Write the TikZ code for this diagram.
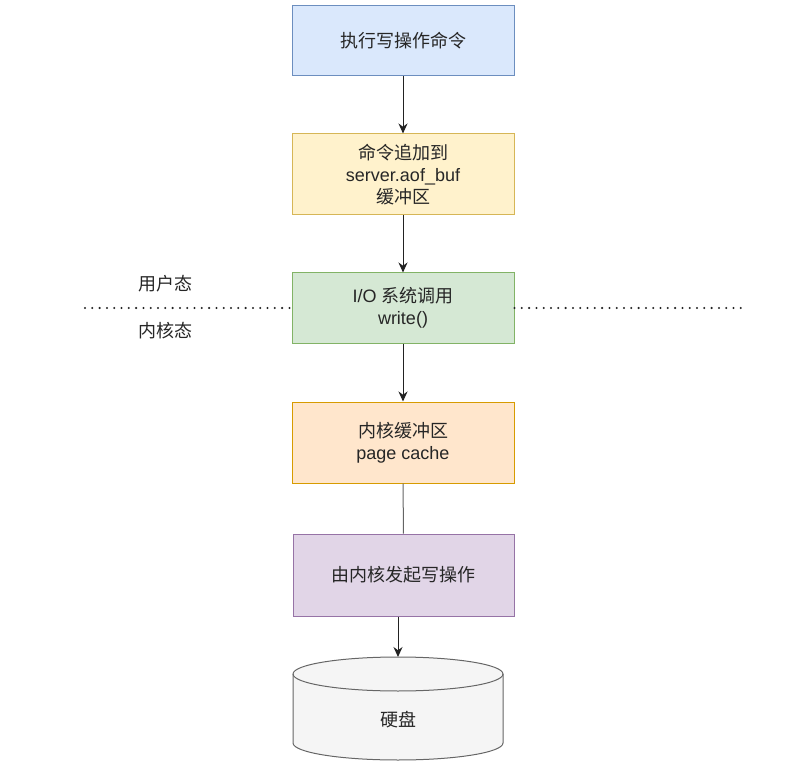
\documentclass[tikz,border=0pt]{standalone}
\usepackage{fontspec}
\setmainfont{Liberation Sans}
\newfontfamily\cjk{Noto Sans CJK SC}
\usetikzlibrary{arrows.meta}
\definecolor{bluef}{HTML}{DAE8FC}\definecolor{blued}{HTML}{6C8EBF}
\definecolor{yelf}{HTML}{FFF2CC}\definecolor{yeld}{HTML}{D6B656}
\definecolor{grnf}{HTML}{D5E8D4}\definecolor{grnd}{HTML}{82B366}
\definecolor{orgf}{HTML}{FFE6CC}\definecolor{orgd}{HTML}{D79B00}
\definecolor{purf}{HTML}{E1D5E7}\definecolor{purd}{HTML}{9673A6}
\definecolor{diskf}{HTML}{F5F5F5}\definecolor{diskd}{HTML}{666666}
\definecolor{ln}{HTML}{222222}
\tikzset{
  box/.style={draw, line width=1pt, minimum width=222pt, inner sep=0pt, align=center,
    font=\fontsize{18}{22}\selectfont, text=black!85},
  lbl/.style={font=\fontsize{18}{22}\selectfont\cjk, text=black!85, inner sep=0pt},
  conn/.style={draw=ln, line width=1pt, -{Stealth[length=10pt,width=9pt]}},
  plain/.style={draw=ln!70, line width=1pt},
  dotline/.style={draw=ln, line width=2.3pt, line cap=round, dash pattern=on 0pt off 7.3pt}
}
\begin{document}
\begin{tikzpicture}[x=1pt,y=-1pt]
\useasboundingbox (0,0) rectangle (801,770);
\node[box, fill=bluef, draw=blued, minimum height=70pt] (b1) at (403,41) {{\cjk 执行写操作命令}};
\node[box, fill=yelf, draw=yeld, minimum height=81pt] (b2) at (403,174.5) {{\cjk 命令追加到}\\server.aof\_buf\\{\cjk 缓冲区}};
\node[box, fill=grnf, draw=grnd, minimum height=70pt] (b3) at (403,308) {I/O {\cjk 系统调用}\\write()};
\node[box, fill=orgf, draw=orgd, minimum height=81pt] (b4) at (403,442.5) {{\cjk 内核缓冲区}\\page cache};
\node[box, fill=purf, draw=purd, minimum height=82pt, minimum width=221pt] (b5) at (403.5,575) {{\cjk 由内核发起写操作}};
% disk
\fill[diskf] (293,674) -- (293,743) arc[start angle=180,end angle=0,x radius=105,y radius=17] -- (503,674) arc[start angle=0,end angle=-180,x radius=105,y radius=17] -- cycle;
\draw[diskd, line width=1pt] (293,674) -- (293,743) arc[start angle=180,end angle=0,x radius=105,y radius=17] -- (503,674) arc[start angle=0,end angle=-180,x radius=105,y radius=17] -- cycle;
\draw[diskd, line width=1pt] (293,674) arc[start angle=180,end angle=0,x radius=105,y radius=17];
\coordinate (disktop) at (398,657);
\node[lbl] (disk) at (398,720) {硬盘};
% labels
\node[lbl] (user) at (165,284) {用户态};
\node[lbl] (kern) at (165,331) {内核态};
\coordinate (dl) at (85,308);
\coordinate (dr) at (748,308);
\draw[dotline] (dl) -- (b3.west);
\draw[dotline] (b3.east) -- (dr);
% connectors
\draw[conn] (b1) -- (b2);
\draw[conn] (b2) -- (b3);
\draw[conn] (b3) -- (b4);
\draw[plain] (b4) -- (b5);
\draw[conn] (b5.south -| disktop) -- (disktop);
\end{tikzpicture}
\end{document}
